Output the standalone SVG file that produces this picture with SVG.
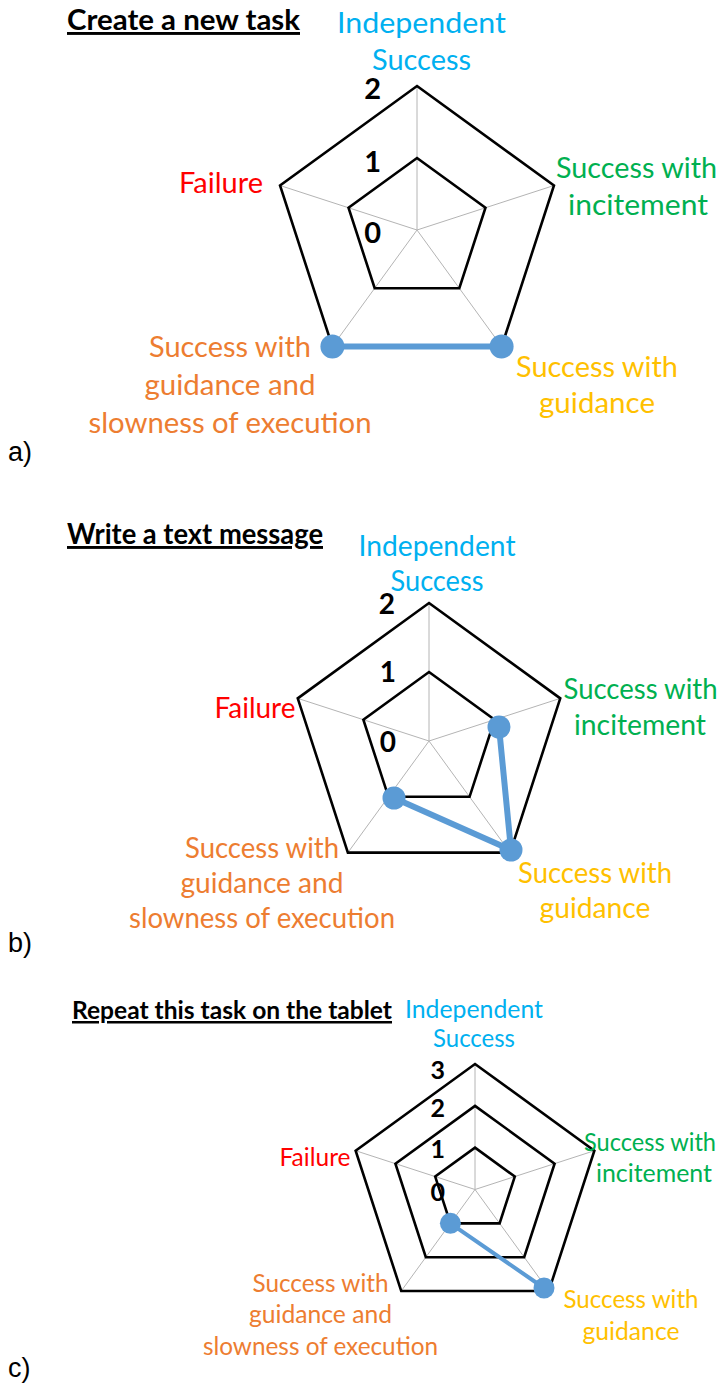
<svg xmlns="http://www.w3.org/2000/svg" width="723" height="1384" viewBox="0 0 723 1384">
<style>
.grid{fill:none;stroke:#000;stroke-width:2.6;stroke-linejoin:miter}
.spoke{stroke:#b4b4b4;stroke-width:1}
.t{font-family:Lato,"Open Sans","Liberation Sans",sans-serif;text-anchor:middle}
.title{font-family:Lato,"Open Sans","Liberation Sans",sans-serif;font-weight:bold;text-decoration:underline;fill:#000}
.num{font-family:Lato,"Open Sans","Liberation Sans",sans-serif;font-weight:bold;text-anchor:end;fill:#000}
.lbl{font-family:"Liberation Sans",Arial,sans-serif;fill:#000;font-size:27px}
.blue{fill:#00b0f0}.green{fill:#00b050}.red{fill:#ff0000}.orange{fill:#ed7d31}.yellow{fill:#ffc000}
.data{fill:none;stroke:#5b9bd5;stroke-linecap:round;stroke-linejoin:round}
.dot{fill:#5b9bd5}
</style>

<!-- Chart a -->
<g id="chart-a">
  <text class="title" x="67" y="30" font-size="29" textLength="233" lengthAdjust="spacingAndGlyphs">Create a new task</text>
  <g id="a-grid">
    <line class="spoke" x1="417" y1="230" x2="417" y2="86"/>
    <line class="spoke" x1="417" y1="230" x2="553.96" y2="185.5"/>
    <line class="spoke" x1="417" y1="230" x2="501.64" y2="346.5"/>
    <line class="spoke" x1="417" y1="230" x2="332.36" y2="346.5"/>
    <line class="spoke" x1="417" y1="230" x2="280.04" y2="185.5"/>
    <polygon class="grid" points="417,158 485.48,207.75 459.32,288.25 374.68,288.25 348.52,207.75"/>
    <polygon class="grid" points="417,86 553.96,185.5 501.64,346.5 332.36,346.5 280.04,185.5"/>
  </g>
  <g id="a-axis">
    <text class="num" x="381" y="99" font-size="29">2</text>
    <text class="num" x="381" y="172" font-size="29">1</text>
    <text class="num" x="381" y="243" font-size="29">0</text>
  </g>
  <g id="a-data">
    <line class="data" stroke-width="6" x1="332.4" y1="346.5" x2="501.6" y2="346.5"/>
    <circle class="dot" cx="332.4" cy="346.5" r="12"/>
    <circle class="dot" cx="501.6" cy="346.5" r="12"/>
  </g>
  <g id="a-labels" font-size="29">
    <text class="t blue" x="421.5" y="33" textLength="169" lengthAdjust="spacingAndGlyphs">Independent</text>
    <text class="t blue" x="421.5" y="70" textLength="99" lengthAdjust="spacingAndGlyphs">Success</text>
    <text class="t green" x="636.5" y="178" textLength="161" lengthAdjust="spacingAndGlyphs">Success with</text>
    <text class="t green" x="638" y="215" textLength="140" lengthAdjust="spacingAndGlyphs">incitement</text>
    <text class="t red" x="221" y="193" textLength="84" lengthAdjust="spacingAndGlyphs">Failure</text>
    <text class="t orange" x="230" y="357" textLength="162" lengthAdjust="spacingAndGlyphs">Success with</text>
    <text class="t orange" x="230" y="395" textLength="171" lengthAdjust="spacingAndGlyphs">guidance and</text>
    <text class="t orange" x="230" y="433" textLength="283" lengthAdjust="spacingAndGlyphs">slowness of execution</text>
    <text class="t yellow" x="597" y="377" textLength="162" lengthAdjust="spacingAndGlyphs">Success with</text>
    <text class="t yellow" x="597" y="413" textLength="116" lengthAdjust="spacingAndGlyphs">guidance</text>
  </g>
  <text class="lbl" x="8" y="461">a)</text>
</g>

<!-- Chart b -->
<g id="chart-b">
  <text class="title" x="67" y="544" font-size="29" textLength="256" lengthAdjust="spacingAndGlyphs">Write a text message</text>
  <g id="b-grid">
    <line class="spoke" x1="429" y1="741" x2="429" y2="603"/>
    <line class="spoke" x1="429" y1="741" x2="560.25" y2="698.36"/>
    <line class="spoke" x1="429" y1="741" x2="510.12" y2="852.64"/>
    <line class="spoke" x1="429" y1="741" x2="347.88" y2="852.64"/>
    <line class="spoke" x1="429" y1="741" x2="297.75" y2="698.36"/>
    <polygon class="grid" points="429,672 494.63,719.68 469.56,796.82 388.44,796.82 363.37,719.68"/>
    <polygon class="grid" points="429,603 560.25,698.36 510.12,852.64 347.88,852.64 297.75,698.36"/>
  </g>
  <g id="b-axis">
    <text class="num" x="395" y="614" font-size="28">2</text>
    <text class="num" x="396" y="682" font-size="28">1</text>
    <text class="num" x="396" y="752" font-size="28">0</text>
  </g>
  <g id="b-data">
    <polyline class="data" stroke-width="6" points="394,798 511,850 499,727"/>
    <circle class="dot" cx="394" cy="798" r="11.5"/>
    <circle class="dot" cx="511" cy="850" r="11.5"/>
    <circle class="dot" cx="499" cy="727" r="11.5"/>
  </g>
  <g id="b-labels" font-size="28">
    <text class="t blue" x="437" y="556" textLength="157" lengthAdjust="spacingAndGlyphs">Independent</text>
    <text class="t blue" x="437" y="591" textLength="93" lengthAdjust="spacingAndGlyphs">Success</text>
    <text class="t green" x="640.5" y="699" textLength="154" lengthAdjust="spacingAndGlyphs">Success with</text>
    <text class="t green" x="640" y="735" textLength="132" lengthAdjust="spacingAndGlyphs">incitement</text>
    <text class="t red" x="255" y="718" textLength="81" lengthAdjust="spacingAndGlyphs">Failure</text>
    <text class="t orange" x="262" y="858" textLength="154" lengthAdjust="spacingAndGlyphs">Success with</text>
    <text class="t orange" x="262" y="893" textLength="163" lengthAdjust="spacingAndGlyphs">guidance and</text>
    <text class="t orange" x="262" y="928" textLength="266" lengthAdjust="spacingAndGlyphs">slowness of execution</text>
    <text class="t yellow" x="595" y="883" textLength="154" lengthAdjust="spacingAndGlyphs">Success with</text>
    <text class="t yellow" x="595" y="918" textLength="111" lengthAdjust="spacingAndGlyphs">guidance</text>
  </g>
  <text class="lbl" x="8" y="952">b)</text>
</g>

<!-- Chart c -->
<g id="chart-c">
  <text class="title" x="72" y="1019" font-size="25" textLength="320" lengthAdjust="spacingAndGlyphs">Repeat this task on the tablet</text>
  <g id="c-grid">
    <line class="spoke" x1="475" y1="1189.5" x2="475" y2="1064"/>
    <line class="spoke" x1="475" y1="1189.5" x2="594.36" y2="1150.72"/>
    <line class="spoke" x1="475" y1="1189.5" x2="548.77" y2="1291.03"/>
    <line class="spoke" x1="475" y1="1189.5" x2="401.23" y2="1291.03"/>
    <line class="spoke" x1="475" y1="1189.5" x2="355.64" y2="1150.72"/>
    <polygon class="grid" points="475,1147.67 514.79,1176.57 499.59,1223.34 450.41,1223.34 435.21,1176.57"/>
    <polygon class="grid" points="475,1105.83 554.58,1163.65 524.18,1257.19 425.82,1257.19 395.42,1163.65"/>
    <polygon class="grid" points="475,1064 594.36,1150.72 548.77,1291.03 401.23,1291.03 355.64,1150.72"/>
  </g>
  <g id="c-axis">
    <text class="num" x="445" y="1079" font-size="25">3</text>
    <text class="num" x="445" y="1117" font-size="25">2</text>
    <text class="num" x="445" y="1158" font-size="25">1</text>
    <text class="num" x="445" y="1201" font-size="25">0</text>
  </g>
  <g id="c-data">
    <line class="data" stroke-width="4" x1="450.4" y1="1223.3" x2="544" y2="1288"/>
    <circle class="dot" cx="450.4" cy="1223.3" r="10.5"/>
    <circle class="dot" cx="544" cy="1288" r="10.5"/>
  </g>
  <g id="c-labels" font-size="25">
    <text class="t blue" x="474" y="1018" textLength="138" lengthAdjust="spacingAndGlyphs">Independent</text>
    <text class="t blue" x="474" y="1047" textLength="82" lengthAdjust="spacingAndGlyphs">Success</text>
    <text class="t green" x="650" y="1151" textLength="132" lengthAdjust="spacingAndGlyphs">Success with</text>
    <text class="t green" x="654" y="1182" textLength="116" lengthAdjust="spacingAndGlyphs">incitement</text>
    <text class="t red" x="315" y="1166" textLength="71" lengthAdjust="spacingAndGlyphs">Failure</text>
    <text class="t orange" x="320.5" y="1292" textLength="136" lengthAdjust="spacingAndGlyphs">Success with</text>
    <text class="t orange" x="320.5" y="1323" textLength="143" lengthAdjust="spacingAndGlyphs">guidance and</text>
    <text class="t orange" x="320.5" y="1355" textLength="235" lengthAdjust="spacingAndGlyphs">slowness of execution</text>
    <text class="t yellow" x="631" y="1308" textLength="135" lengthAdjust="spacingAndGlyphs">Success with</text>
    <text class="t yellow" x="631" y="1340" textLength="97" lengthAdjust="spacingAndGlyphs">guidance</text>
  </g>
  <text class="lbl" x="8" y="1377">c)</text>
</g>
</svg>
